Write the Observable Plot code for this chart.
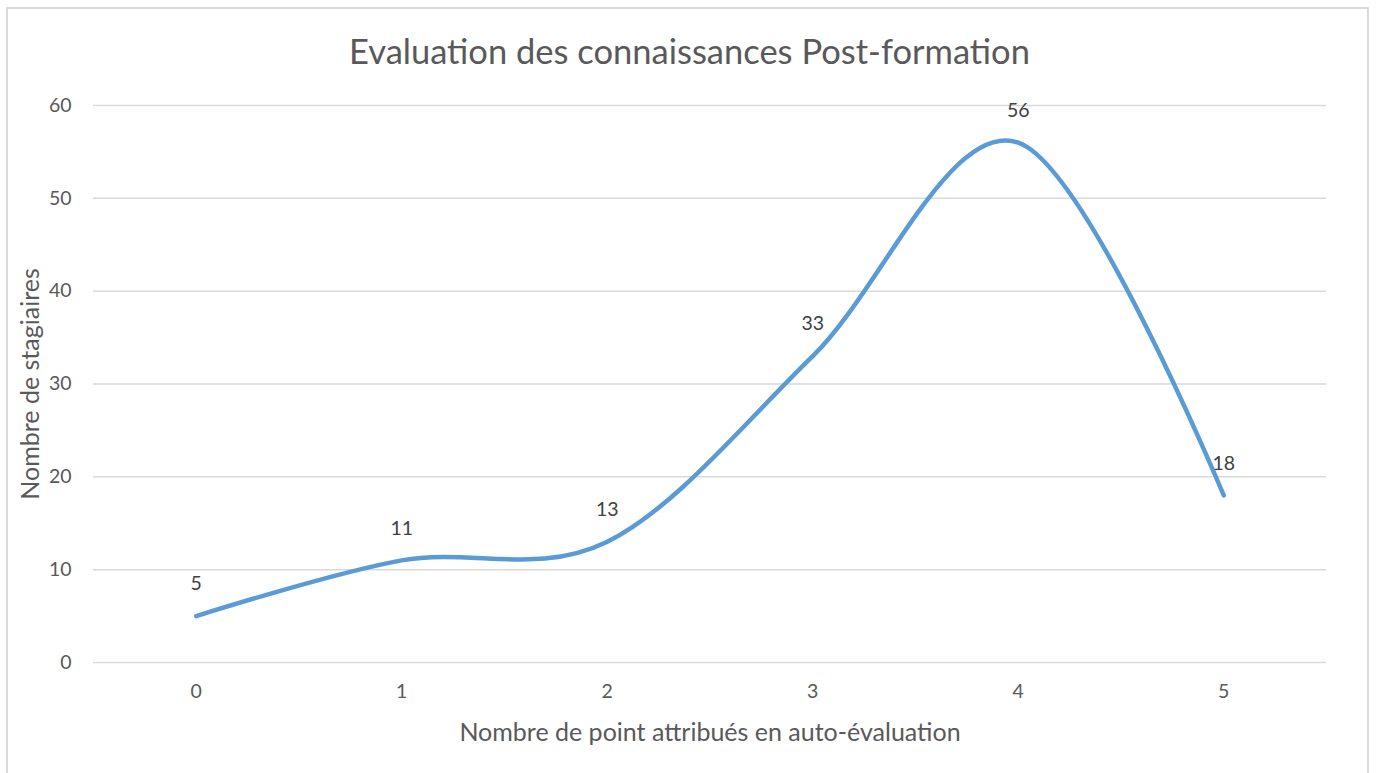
<!DOCTYPE html>
<html>
<head>
<meta charset="utf-8">
<script src="https://cdn.jsdelivr.net/npm/d3@7"></script>
<script src="https://cdn.jsdelivr.net/npm/@observablehq/plot@0.6"></script>
<style>
  body { margin: 0; background: #fff; }
  #wrap { position: relative; width: 1379px; height: 773px; overflow: hidden; font-family: Lato, "Open Sans", sans-serif; }
  #border { position: absolute; left: 6px; top: 7px; width: 1363px; height: 800px; border: 2px solid #d9d9d9; box-sizing: border-box; }
  #title { position: absolute; left: 0; top: 30px; width: 1379px; text-align: center; font-size: 34.5px; line-height: 1.2; color: #595959; }
  #chart { position: absolute; left: 0; top: 85px; }
</style>
</head>
<body>
<div id="wrap">
  <div id="border"></div>
  <div id="title">Evaluation des connaissances Post-formation</div>
  <div id="chart"></div>
</div>
<script>
const points = [0, 1, 2, 3, 4, 5];
const stagiaires = [5, 11, 13, 33, 56, 18];
const yTicks = [0, 10, 20, 30, 40, 50, 60];
const xLabel = "Nombre de point attribués en auto-évaluation";
const yLabel = "Nombre de stagiaires";

const data = points.map((p, i) => ({ p, v: stagiaires[i] }));

const chart = Plot.plot({
  width: 1379,
  height: 688,
  marginLeft: 93,
  marginRight: 53,
  marginTop: 20,
  marginBottom: 111,
  style: { fontFamily: "Lato, 'Open Sans', sans-serif", background: "transparent", overflow: "visible" },
  x: { domain: [-0.5, 5.5] },
  y: { domain: [0, 60] },
  marks: [
    Plot.ruleY(yTicks, { stroke: "#d9d9d9", strokeWidth: 1.5 }),
    Plot.axisY({ ticks: yTicks, tickSize: 0, tickPadding: 22, fontSize: 19.5, color: "#595959", label: null }),
    Plot.axisX({ ticks: points, tickSize: 0, tickPadding: 22, fontSize: 19.5, color: "#595959",
      tickFormat: d => String(d), label: null }),
    Plot.text([xLabel], { text: d => d, frameAnchor: "bottom", lineAnchor: "middle", textAnchor: "middle", dy: 70, fontSize: 25, fill: "#595959" }),
    Plot.text([yLabel], { text: d => d, frameAnchor: "left", lineAnchor: "middle", textAnchor: "middle", rotate: -90, dx: -63, fontSize: 25, fill: "#595959" }),
    Plot.line(data, { x: "p", y: "v", stroke: "#5b9bd5", strokeWidth: 4.5, curve: "cardinal", tension: 0, strokeLinecap: "round" }),
    Plot.text(data, { x: "p", y: "v", text: d => String(d.v), dy: -32, fill: "#404040", fontSize: 19.5 })
  ]
});
document.getElementById("chart").appendChild(chart);
</script>
</body>
</html>
